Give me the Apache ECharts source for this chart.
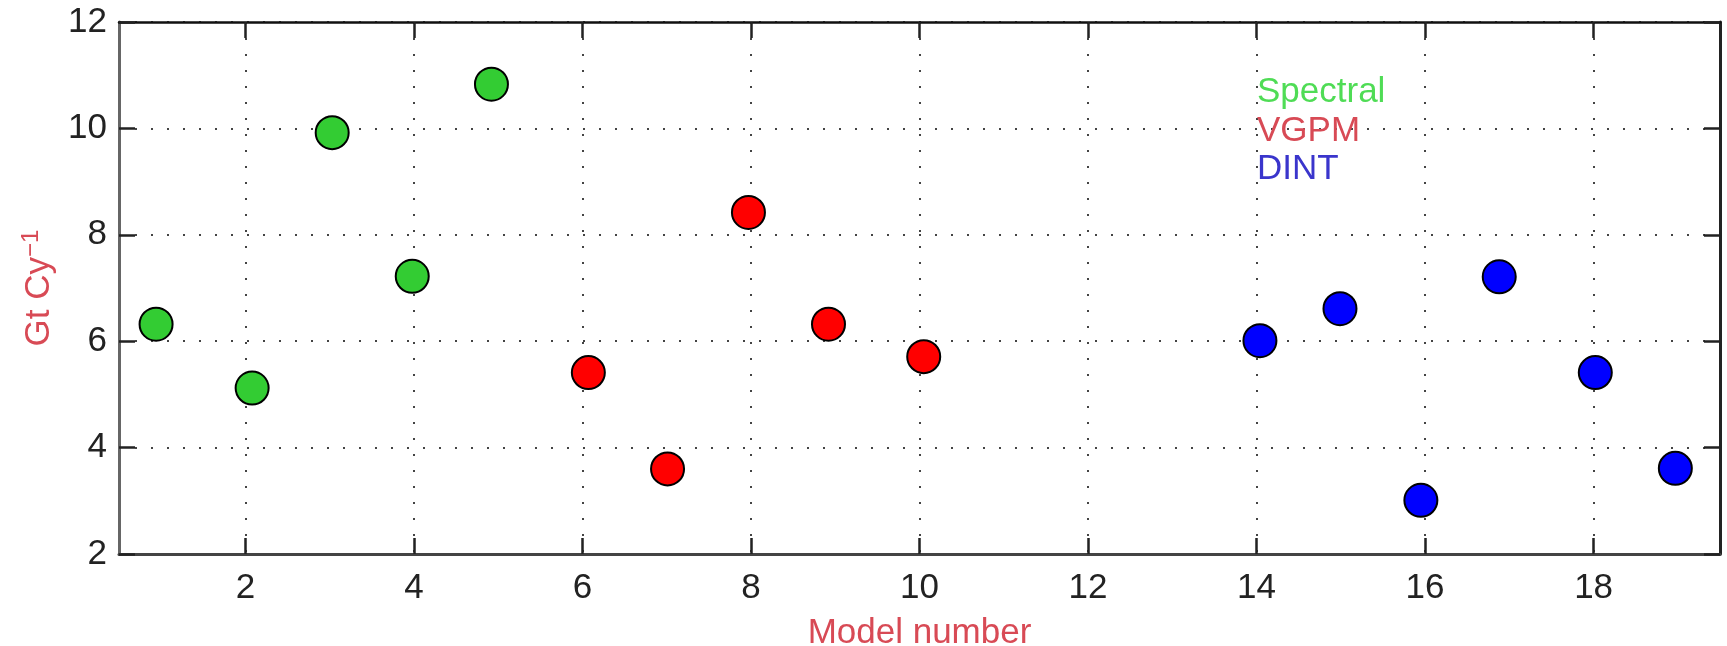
<!DOCTYPE html>
<html>
<head>
<meta charset="utf-8">
<script src="https://cdn.jsdelivr.net/npm/echarts@6/dist/echarts.min.js"></script>
<style>html,body{margin:0;padding:0;background:#fff}#c{width:1727px;height:646px}</style>
</head>
<body>
<div id="c"></div>
<script>
// Data
const spectralModel = [0.94, 2.08, 3.03, 3.98, 4.92];
const spectralValue = [6.32, 5.12, 9.92, 7.22, 10.83];
const vgpmModel = [6.07, 7.01, 7.97, 8.92, 10.05];
const vgpmValue = [5.41, 3.60, 8.42, 6.32, 5.71];
const dintModel = [14.04, 14.99, 15.95, 16.88, 18.02, 18.97];
const dintValue = [6.01, 6.61, 3.01, 7.21, 5.41, 3.61];
const xTicks = [2, 4, 6, 8, 10, 12, 14, 16, 18];
const seriesNames = ['Spectral', 'VGPM', 'DINT'];

const pairs = (xs, ys) => xs.map((x, i) => [x, ys[i]]);
const chart = echarts.init(document.getElementById('c'));
const axisColor = '#444';
const font = 'Liberation Sans, Arial, sans-serif';
const gridLine = { show: true, lineStyle: { color: '#444', width: 2, type: [2, 14] } };
const tick = { show: true, inside: true, length: 16, lineStyle: { color: '#222', width: 2.5 } };
const lbl = { fontSize: 35, color: '#222', fontFamily: font };

const markerColors = ['#33cc33', '#ff0000', '#0000ff'];
const legendColors = ['#4fdc55', '#d84a55', '#3a35cc'];

chart.setOption({
  animation: false,
  backgroundColor: '#fff',
  grid: { left: 119, right: 7, top: 22, bottom: 92, containLabel: false, outerBoundsMode: 'none' },
  legend: {
    orient: 'vertical', left: 1246, top: 70, itemGap: 3.5,
    itemWidth: 0, itemHeight: 0, icon: 'rect',
    selectedMode: false,
    textStyle: { fontSize: 35, fontFamily: font },
    data: seriesNames.map((n, i) => ({ name: n, textStyle: { color: legendColors[i] } }))
  },
  xAxis: [{
    type: 'value', min: 0.5, max: 19.5, position: 'bottom',
    axisLine: { show: true, lineStyle: { color: axisColor, width: 3 } },
    axisTick: Object.assign({ customValues: xTicks }, tick),
    axisLabel: Object.assign({ customValues: xTicks, margin: 17 }, lbl),
    splitLine: gridLine,
    name: 'Model number', nameLocation: 'middle', nameGap: 62,
    nameTextStyle: { fontSize: 35, color: '#d84a55', fontFamily: font }
  }, {
    type: 'value', min: 0.5, max: 19.5, position: 'top',
    axisLine: { show: true, lineStyle: { color: '#111', width: 2.5 } },
    axisTick: Object.assign({ customValues: xTicks }, tick),
    axisLabel: { show: false, customValues: xTicks },
    splitLine: { show: false }
  }],
  yAxis: [{
    type: 'value', min: 2, max: 12, interval: 2, position: 'left',
    axisLine: { show: true, lineStyle: { color: '#666', width: 3 } },
    axisTick: tick,
    axisLabel: Object.assign({ margin: 12 }, lbl),
    splitLine: gridLine,
    name: 'Gt Cy{sup|−1}', nameLocation: 'middle', nameGap: 57,
    nameTextStyle: {
      fontSize: 35, color: '#d84a55', fontFamily: font,
      rich: { sup: { fontSize: 24, color: '#d84a55', fontFamily: font, verticalAlign: 'top', padding: [0, 0, 16, 0] } }
    }
  }, {
    type: 'value', min: 2, max: 12, interval: 2, position: 'right',
    axisLine: { show: true, lineStyle: { color: '#222', width: 3 } },
    axisTick: tick,
    axisLabel: { show: false },
    splitLine: { show: false }
  }],
  series: [
    { name: seriesNames[0], type: 'scatter', data: pairs(spectralModel, spectralValue) },
    { name: seriesNames[1], type: 'scatter', data: pairs(vgpmModel, vgpmValue) },
    { name: seriesNames[2], type: 'scatter', data: pairs(dintModel, dintValue) }
  ].map((s, i) => Object.assign(s, {
    symbol: 'circle', symbolSize: 33,
    itemStyle: { color: markerColors[i], borderColor: '#000', borderWidth: 2, opacity: 1 }
  }))
});
</script>
</body>
</html>
